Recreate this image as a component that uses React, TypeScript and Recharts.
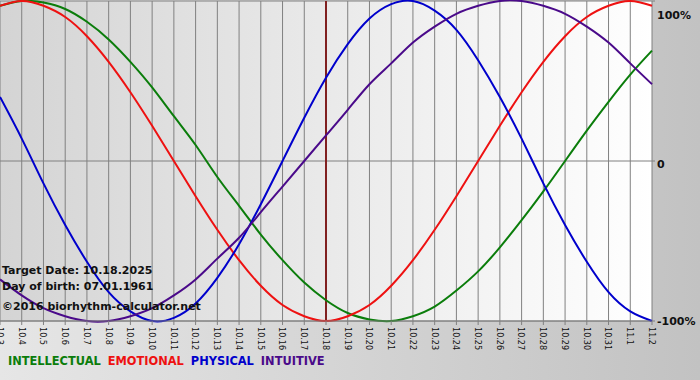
import React from 'react';
import { LineChart, Line, XAxis, YAxis, CartesianGrid, ReferenceLine } from 'recharts';

const days = [
  '10.3', '10.4', '10.5', '10.6', '10.7', '10.8', '10.9', '10.10', '10.11', '10.12', '10.13',
  '10.14', '10.15', '10.16', '10.17', '10.18', '10.19', '10.20', '10.21', '10.22', '10.23',
  '10.24', '10.25', '10.26', '10.27', '10.28', '10.29', '10.30', '10.31', '11.1', '11.2',
];

const intellectual = [
  0.97, 1.0, 0.99, 0.95, 0.87, 0.76, 0.62, 0.46, 0.28, 0.1, -0.1, -0.28, -0.46, -0.62, -0.76, -0.87,
  -0.95, -0.99, -1.0, -0.97, -0.91, -0.81, -0.69, -0.54, -0.37, -0.19, 0, 0.19, 0.37, 0.54, 0.69,
];
const emotional = [
  0.97, 1.0, 0.97, 0.9, 0.78, 0.62, 0.43, 0.22, 0, -0.22, -0.43, -0.62, -0.78, -0.9, -0.97, -1.0,
  -0.97, -0.9, -0.78, -0.62, -0.43, -0.22, 0, 0.22, 0.43, 0.62, 0.78, 0.9, 0.97, 1.0, 0.97,
];
const physical = [
  0.4, 0.14, -0.14, -0.4, -0.63, -0.82, -0.94, -1.0, -0.98, -0.89, -0.73, -0.52, -0.27, 0, 0.27, 0.52,
  0.73, 0.89, 0.98, 1.0, 0.94, 0.82, 0.63, 0.4, 0.14, -0.14, -0.4, -0.63, -0.82, -0.94, -1.0,
];
const intuitive = [
  -0.74, -0.84, -0.92, -0.97, -1.0, -1.0, -0.97, -0.92, -0.84, -0.74, -0.61, -0.48, -0.32, -0.16, 0, 0.16,
  0.32, 0.48, 0.61, 0.74, 0.84, 0.92, 0.97, 1.0, 1.0, 0.97, 0.92, 0.84, 0.74, 0.61, 0.48,
];

const pctTicks = [-1, 0, 1];
const pctLabels = ['-100%', '0', '100%'];
const targetDay = '10.18';

const series = [
  { key: 'intellectual', name: 'INTELLECTUAL', color: '#0b7d0b' },
  { key: 'emotional', name: 'EMOTIONAL', color: '#ee1111' },
  { key: 'physical', name: 'PHYSICAL', color: '#0000cc' },
  { key: 'intuitive', name: 'INTUITIVE', color: '#4a0a8a' },
];

const data = days.map((day, i) => ({
  day,
  intellectual: intellectual[i],
  emotional: emotional[i],
  physical: physical[i],
  intuitive: intuitive[i],
}));

const FONT = '"DejaVu Sans", Verdana, sans-serif';

const DayTick = ({ x, y, payload }: any) => (
  <text
    x={x}
    y={y}
    dy="0.35em"
    transform={`rotate(90, ${x}, ${y})`}
    fontFamily='"DejaVu Sans Condensed", "Liberation Sans", sans-serif'
    fontSize={9}
    fill="#111"
    textAnchor="start"
  >
    {payload.value}
  </text>
);

const PctTick = ({ x, y, payload }: any) => {
  const idx = pctTicks.indexOf(payload.value);
  const dy = payload.value === 1 ? 10 : payload.value === -1 ? 4 : 7;
  return (
    <text x={x} y={y} dy={dy} fontFamily={FONT} fontWeight="bold" fontSize={11} fill="#111" textAnchor="start">
      {pctLabels[idx]}
    </text>
  );
};

const App: React.FC = () => {
  return (
    <div
      style={{
        position: 'absolute',
        left: 0,
        top: 0,
        width: 700,
        height: 380,
        background: 'linear-gradient(to right, #e6e6e6, #c2c2c2)',
      }}
    >
      <LineChart width={700} height={380} data={data} margin={{ top: 1, right: 0, left: 0, bottom: 25 }}>
        <defs>
          <linearGradient id="plotBg" x1="0" y1="0" x2="1" y2="0">
            <stop offset="0%" stopColor="#d4d4d4" />
            <stop offset="100%" stopColor="#ffffff" />
          </linearGradient>
        </defs>
        <CartesianGrid stroke="#808080" fill="url(#plotBg)" fillOpacity={1} />
        <XAxis
          dataKey="day"
          interval={0}
          height={34}
          tickSize={4}
          tick={<DayTick />}
          stroke="#808080"
        />
        <YAxis
          orientation="right"
          domain={[-1, 1]}
          ticks={pctTicks}
          width={48}
          tickSize={3}
          axisLine={false}
          tick={<PctTick />}
          stroke="#808080"
        />
        <ReferenceLine x={targetDay} stroke="#802020" strokeWidth={2} />
        {series.map((s) => (
          <Line
            key={s.key}
            type="natural"
            dataKey={s.key}
            name={s.name}
            stroke={s.color}
            strokeWidth={2}
            dot={false}
            isAnimationActive={false}
          />
        ))}
      </LineChart>
      <div
        style={{
          position: 'absolute',
          left: 8,
          top: 354,
          fontFamily: FONT,
          fontWeight: 'bold',
          fontSize: 11.4,
          whiteSpace: 'nowrap',
        }}
      >
        {series.map((s) => (
          <span key={s.key} style={{ color: s.color, marginRight: 7 }}>{s.name}</span>
        ))}
      </div>
      <div
        style={{
          position: 'absolute',
          left: 2,
          top: 263,
          fontFamily: FONT,
          fontWeight: 'bold',
          fontSize: 11,
          color: '#111',
          lineHeight: '16px',
        }}
      >
        <div>Target Date: 10.18.2025</div>
        <div>Day of birth: 07.01.1961</div>
        <div style={{ marginTop: 4 }}>©2016 biorhythm-calculator.net</div>
      </div>
    </div>
  );
};

export default App;
